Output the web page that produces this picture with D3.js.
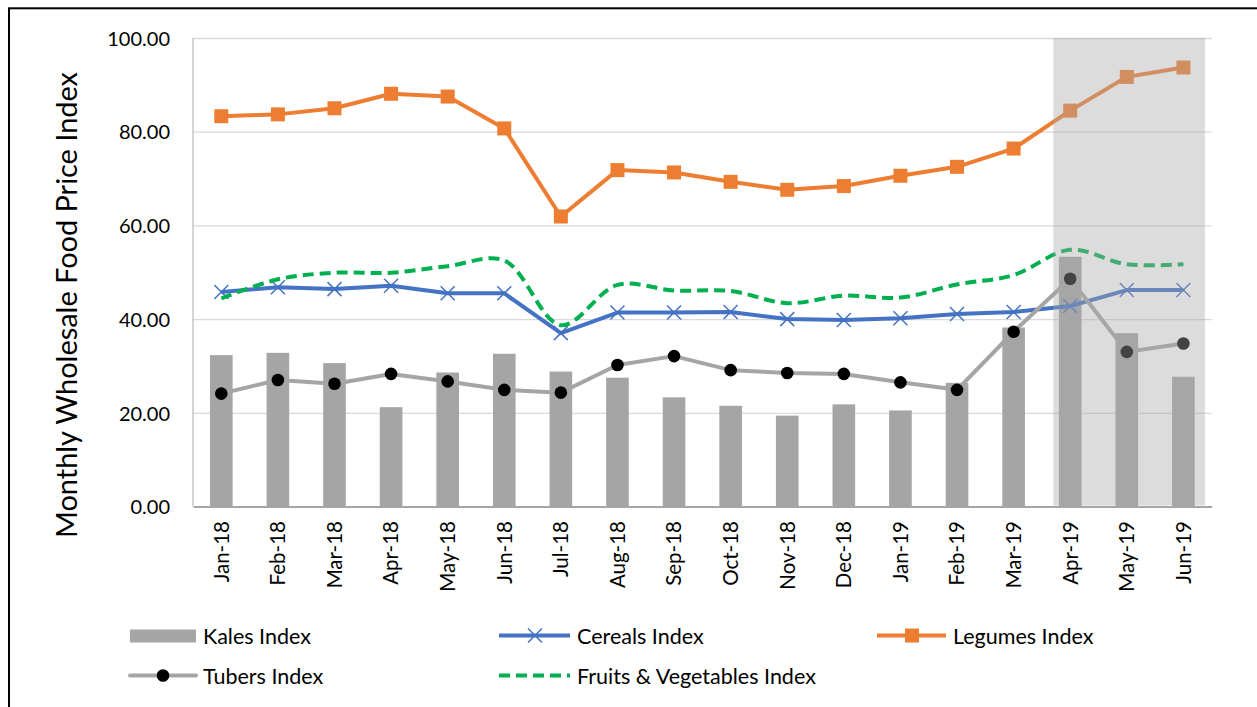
<!DOCTYPE html>
<html>
<head>
<meta charset="utf-8">
<script src="https://cdn.jsdelivr.net/npm/d3@7"></script>
<style>
  html, body { margin: 0; padding: 0; background: #fff; }
  svg { display: block; font-family: Lato, "Open Sans", sans-serif; }
</style>
</head>
<body>
<script>
// ---------------- data ----------------
const categories = ["Jan-18","Feb-18","Mar-18","Apr-18","May-18","Jun-18","Jul-18","Aug-18","Sep-18",
  "Oct-18","Nov-18","Dec-18","Jan-19","Feb-19","Mar-19","Apr-19","May-19","Jun-19"];
const kales     = [32.3,32.8,30.6,21.2,28.6,32.6,28.8,27.5,23.3,21.5,19.4,21.8,20.5,26.4,38.2,53.3,37.0,27.7];
const cereals   = [45.8,46.8,46.4,47.1,45.5,45.5,37.0,41.4,41.4,41.5,40.0,39.8,40.2,41.1,41.5,42.8,46.2,46.2];
const legumes   = [83.3,83.7,85.0,88.1,87.5,80.7,61.9,71.8,71.3,69.3,67.6,68.4,70.6,72.5,76.4,84.5,91.7,93.7];
const tubers    = [24.1,27.0,26.2,28.3,26.7,24.9,24.3,30.2,32.1,29.1,28.5,28.3,26.5,24.9,37.3,48.6,33.0,34.8];
const fruitsVeg = [44.4,48.5,49.9,49.9,51.3,52.5,38.7,47.3,46.1,46.0,43.4,45.0,44.6,47.4,49.4,54.8,51.7,51.7];
const yTicks = [0,20,40,60,80,100];
const seriesNames = ["Kales Index","Cereals Index","Legumes Index","Tubers Index","Fruits & Vegetables Index"];
const highlightFrom = "Apr-19", highlightTo = "Jun-19";
const yTitle = "Monthly Wholesale Food Price Index";

// ---------------- layout ----------------
const W = 1257, H = 707;
const L = 193, R = 1211.7, T = 38, B = 506.5;
const C = { kales:"#A5A5A5", cereals:"#4472C4", legumes:"#ED7D31", tubers:"#A5A5A5", fv:"#00B050" };

const svg = d3.select("body").append("svg").attr("width", W).attr("height", H);
svg.append("rect").attr("width", W).attr("height", H).attr("fill", "#fff");
// outer frame (left & top visible)
svg.append("rect").attr("x", 9).attr("y", 8.3).attr("width", 1400).attr("height", 900)
  .attr("fill", "none").attr("stroke", "#000").attr("stroke-width", 2);

const x = d3.scaleBand().domain(categories).range([L, R]).paddingInner(0).paddingOuter(0);
const bw = x.bandwidth();
const cx = c => x(c) + bw / 2;
const y = d3.scaleLinear().domain([0, 100]).range([B, T]);

// gridlines
svg.append("g").attr("transform", `translate(${L},0)`)
  .call(d3.axisLeft(y).tickValues(yTicks.filter(v => v > 0)).tickSize(-(R - L)).tickFormat(""))
  .call(g => g.select(".domain").remove())
  .call(g => g.selectAll("line").attr("stroke", "#D9D9D9").attr("stroke-width", 1.3));

// left axis line
svg.append("line").attr("x1", L).attr("x2", L).attr("y1", T).attr("y2", B)
  .attr("stroke", "#BFBFBF").attr("stroke-width", 1.3);

// y labels
svg.append("g").attr("transform", `translate(${L},0)`)
  .call(d3.axisLeft(y).tickValues(yTicks).tickSize(0).tickPadding(23).tickFormat(d3.format(".2f")))
  .call(g => g.select(".domain").remove())
  .call(g => g.selectAll("text").attr("font-size", 20).attr("fill", "#000")
    .attr("font-family", "Lato, sans-serif").attr("dy", "0.36em"));

// bars
svg.append("g").selectAll("rect").data(categories).join("rect")
  .attr("x", (c) => cx(c) - bw * 0.2)
  .attr("width", bw * 0.4)
  .attr("y", (c, i) => y(kales[i]))
  .attr("height", (c, i) => y(0) - y(kales[i]))
  .attr("fill", C.kales);

// x axis
svg.append("g").attr("transform", `translate(0,${B})`)
  .call(d3.axisBottom(x).tickSize(0).tickPadding(0))
  .call(g => g.select(".domain").attr("stroke", "#A6A6A6").attr("stroke-width", 2))
  .call(g => g.selectAll("text").attr("font-size", 20.5).attr("fill", "#000")
    .attr("font-family", "Lato, sans-serif")
    .attr("transform", "rotate(-90)").attr("x", -14.5).attr("y", 0).attr("dy", "0.36em")
    .attr("text-anchor", "end"));

const pts = arr => categories.map((c, i) => [cx(c), y(arr[i])]);

// cereals
svg.append("path").attr("d", d3.line()(pts(cereals)))
  .attr("fill", "none").attr("stroke", C.cereals).attr("stroke-width", 4).attr("stroke-linejoin", "round");
svg.append("g").selectAll("path").data(pts(cereals)).join("path")
  .attr("d", d => `M${d[0]-7},${d[1]-7}L${d[0]+7},${d[1]+7}M${d[0]-7},${d[1]+7}L${d[0]+7},${d[1]-7}`)
  .attr("stroke", C.cereals).attr("stroke-width", 1.5).attr("fill", "none");

// legumes
svg.append("path").attr("d", d3.line()(pts(legumes)))
  .attr("fill", "none").attr("stroke", C.legumes).attr("stroke-width", 4).attr("stroke-linejoin", "round");
svg.append("g").selectAll("rect").data(pts(legumes)).join("rect")
  .attr("x", d => d[0] - 7).attr("y", d => d[1] - 7).attr("width", 14).attr("height", 14)
  .attr("fill", C.legumes);

// tubers
svg.append("path").attr("d", d3.line()(pts(tubers)))
  .attr("fill", "none").attr("stroke", C.tubers).attr("stroke-width", 4).attr("stroke-linejoin", "round");
svg.append("g").selectAll("circle").data(pts(tubers)).join("circle")
  .attr("cx", d => d[0]).attr("cy", d => d[1]).attr("r", 6.3).attr("fill", "#000");

// fruits & vegetables (smoothed, dashed)
svg.append("path").attr("d", d3.line().curve(d3.curveCatmullRom.alpha(0.5))(pts(fruitsVeg)))
  .attr("fill", "none").attr("stroke", C.fv).attr("stroke-width", 4).attr("stroke-dasharray", "11,6");

// highlight overlay
const hx0 = x(highlightFrom) + bw * 0.2, hx1 = x(highlightTo) + bw * 0.88;
svg.append("rect").attr("x", hx0).attr("y", T).attr("width", hx1 - hx0).attr("height", B - T - 1)
  .attr("fill", "rgb(167,167,167)").attr("fill-opacity", 0.4);

// y title
const tt = svg.append("text").attr("transform", "translate(77,305) rotate(-90)")
  .attr("text-anchor", "middle").attr("font-size", 25).attr("fill", "#000").text(yTitle);
const len = tt.node().getComputedTextLength();
tt.attr("font-size", 25 * 466 / len);

// legend
const lg = svg.append("g").attr("font-size", 21.5).attr("fill", "#000");
function legendText(xp, yp, t) {
  lg.append("text").attr("x", xp).attr("y", yp).attr("dy", "0.36em").text(t);
}
// Kales
lg.append("rect").attr("x", 130).attr("y", 629.5).attr("width", 66).attr("height", 13).attr("fill", C.kales);
legendText(203, 636, seriesNames[0]);
// Cereals
lg.append("line").attr("x1", 499).attr("x2", 570).attr("y1", 635.5).attr("y2", 635.5)
  .attr("stroke", C.cereals).attr("stroke-width", 4);
lg.append("path").attr("d", "M528,628.5L542,642.5M528,642.5L542,628.5").attr("stroke", C.cereals).attr("stroke-width", 1.5);
legendText(577, 636, seriesNames[1]);
// Legumes
lg.append("line").attr("x1", 877).attr("x2", 946).attr("y1", 635.5).attr("y2", 635.5)
  .attr("stroke", C.legumes).attr("stroke-width", 4);
lg.append("rect").attr("x", 905).attr("y", 628.5).attr("width", 14).attr("height", 14).attr("fill", C.legumes);
legendText(953, 636, seriesNames[2]);
// Tubers
lg.append("line").attr("x1", 130).attr("x2", 196).attr("y1", 675.5).attr("y2", 675.5)
  .attr("stroke", C.tubers).attr("stroke-width", 4).attr("stroke-linecap", "round");
lg.append("circle").attr("cx", 163).attr("cy", 675.5).attr("r", 6.3).attr("fill", "#000");
legendText(203, 676, seriesNames[3]);
// F&V
lg.append("line").attr("x1", 499).attr("x2", 570).attr("y1", 675.5).attr("y2", 675.5)
  .attr("stroke", C.fv).attr("stroke-width", 4).attr("stroke-dasharray", "11,6");
legendText(577, 676, seriesNames[4]);
</script>
</body>
</html>
